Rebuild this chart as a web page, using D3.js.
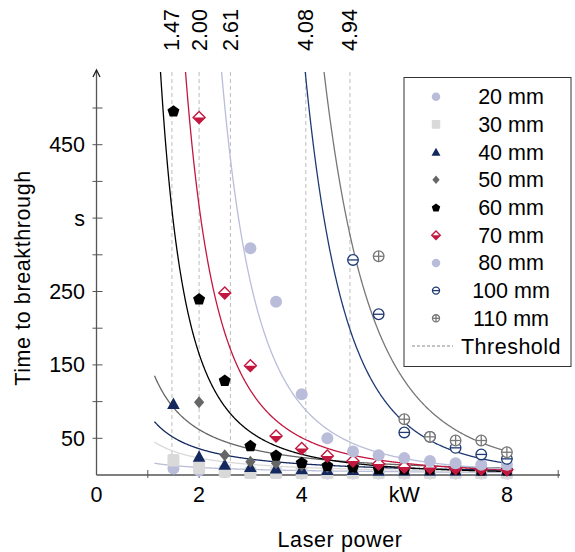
<!DOCTYPE html>
<html><head><meta charset="utf-8">
<script src="https://cdn.jsdelivr.net/npm/d3@7"></script>
<style>
html,body{margin:0;padding:0;background:#fff;}
svg{display:block;font-family:"Liberation Sans",Arial,sans-serif;}
</style></head>
<body>
<svg id="chart" width="575" height="552"></svg>
<script>
// ---------- data ----------
const powerKW = [1.5,2,2.5,3,3.5,4,4.5,5,5.5,6,6.5,7,7.5,8];
const seriesNames = ["20 mm","30 mm","40 mm","50 mm","60 mm","70 mm","80 mm","100 mm","110 mm"];
const t20  = [9,6,4,3,3,2,2,2,2,2,2,2,2,2];
const t30  = [20,10,5,3,3,3,3,3,3,3,3,3,3,3];
const t40  = [97,25,14,11,9,8,7,7,6,6,6,6,6,6];
const t50  = [null,99,27,18,16,13,11,10,9,9,8,8,8,7];
const t60  = [496,240,129,40,27,17,13,11,9,8,8,8,7,7];
const t70  = [null,487,248,149,53,36,26,19,15,11,10,9,8,7];
const t80  = [null,null,null,309,236,110,50,32,27,23,19,16,14,14];
const t100 = [null,null,null,null,null,null,null,293,219,58,52,37,28,22];
const t110 = [null,null,null,null,null,null,null,null,298,76,52,47,47,31];
// power-law trendlines t = a * P^-b
const fitA = [17.6,51.8,84.6,160,966,2642,13000,857600,700000];
const fitB = [0.77,1.16,1.24,1.37,2.55,2.85,3.55,5.24,4.8];
const thresholds = [1.47,2.00,2.61,4.08,4.94];
const yTickValues = [50,150,250,350,450];
const yTickLabels = ["50","150","250","s","450"];
const xTickValues = [0,2,4,6,8];
const xTickLabels = ["0","2","4","kW","8"];

const allValues = [t20,t30,t40,t50,t60,t70,t80,t100,t110];
const colors = ["#b9bdd9","#d9d9d9","#13285e","#666666","#000000","#c3173f","#b9bdd9","#1f3a72","#777777"];
const shapes = ["circle","square","triangle","diamond","pentagon","halfdiamond","circle","minus","plus"];

// ---------- layout ----------
const svg = d3.select("#chart");
const FS = 21.5;
const x = d3.scaleLinear().domain([0,9]).range([96.5, 96.5 + 9*51.3]);
const y = d3.scaleLinear().domain([0,500]).range([475, 108]);
const topY = 72;

svg.append("defs").append("clipPath").attr("id","clip")
  .append("rect").attr("x",x(0)).attr("y",topY).attr("width",x(9)-x(0)).attr("height",y(0)-topY);

// threshold lines
svg.append("g").selectAll("line").data(thresholds).join("line")
  .attr("x1",d=>x(d)).attr("x2",d=>x(d)).attr("y1",topY).attr("y2",y(0))
  .attr("stroke","#bdbdbd").attr("stroke-width",1).attr("stroke-dasharray","4,3");

svg.append("g").selectAll("text").data(thresholds).join("text")
  .attr("transform",d=>`translate(${x(d)+7.5},51) rotate(-90)`)
  .attr("font-size",FS).attr("fill","#000")
  .text(d=>d.toFixed(2));

// trend curves
const curveG = svg.append("g").attr("clip-path","url(#clip)");
const line = d3.line().x(d=>x(d[0])).y(d=>y(d[1]));
fitA.forEach((a,i)=>{
  const b = fitB[i];
  const pts = [];
  for (let p=0.9; p<=8.07; p+=0.01) {
    if (i<4 && p<1.13) continue;
    pts.push([p, a*Math.pow(p,-b)]);
  }
  pts.push([8.07, a*Math.pow(8.07,-b)]);
  curveG.append("path").attr("d",line(pts.filter(d=>d[1]<700)))
    .attr("fill","none").attr("stroke",colors[i]).attr("stroke-width",1.3);
});

// axes
const axisColor = "#555";
svg.append("line").attr("x1",x(0)).attr("x2",560).attr("y1",y(0)).attr("y2",y(0))
  .attr("stroke",axisColor).attr("stroke-width",1.5);
svg.append("line").attr("x1",x(0)).attr("x2",x(0)).attr("y1",y(0)).attr("y2",71)
  .attr("stroke",axisColor).attr("stroke-width",1.3);
svg.append("path").attr("d",`M${x(0)-3.5},77 L${x(0)},70 L${x(0)+3.5},77`)
  .attr("fill","none").attr("stroke","#222").attr("stroke-width",1.3);

// y ticks every 50
svg.append("g").selectAll("line").data(d3.range(50,501,50)).join("line")
  .attr("x1",x(0)-4).attr("x2",x(0)+6).attr("y1",d=>y(d)).attr("y2",d=>y(d))
  .attr("stroke",axisColor).attr("stroke-width",1);
svg.append("g").selectAll("text").data(yTickValues).join("text")
  .attr("x",85).attr("y",d=>y(d)).attr("dy","0.35em").attr("text-anchor","end")
  .attr("font-size",FS).text((d,i)=>yTickLabels[i]);

// x ticks
svg.append("g").selectAll("line").data(d3.range(1,10,1)).join("line")
  .attr("x1",d=>x(d)).attr("x2",d=>x(d)).attr("y1",y(0)-5).attr("y2",y(0)+3)
  .attr("stroke",axisColor).attr("stroke-width",1);
svg.append("g").selectAll("text").data(xTickValues).join("text")
  .attr("x",d=>x(d)).attr("y",502).attr("text-anchor","middle")
  .attr("font-size",FS).text((d,i)=>xTickLabels[i]);

// axis titles
svg.append("text").attr("x",340).attr("y",547).attr("text-anchor","middle")
  .attr("font-size",FS).attr("letter-spacing","0.6").text("Laser power");
svg.append("text").attr("transform","translate(30,278) rotate(-90)").attr("text-anchor","middle")
  .attr("font-size",FS).attr("letter-spacing","0.6").text("Time to breakthrough");

// markers
function drawMarker(g, shape, color, s) {
  const r = s/2;
  switch(shape){
    case "circle":
      g.append("circle").attr("r",r).attr("fill",color); break;
    case "square":
      g.append("rect").attr("x",-r).attr("y",-r*1.05).attr("width",s).attr("height",s*1.05)
        .attr("rx",s*0.15).attr("fill",color); break;
    case "triangle":
      g.append("path").attr("d",`M0,${-r*1.05} L${r*1.05},${r*0.85} L${-r*1.05},${r*0.85}Z`).attr("fill",color); break;
    case "diamond":
      g.append("path").attr("d",`M0,${-r} L${r*0.85},0 L0,${r} L${-r*0.85},0Z`).attr("fill",color); break;
    case "pentagon": {
      const pts = d3.range(5).map(k=>{const a=-Math.PI/2+k*2*Math.PI/5;return [r*1.05*Math.cos(a), r*1.05*Math.sin(a)+0.5];});
      g.append("path").attr("d","M"+pts.join("L")+"Z").attr("fill",color); break; }
    case "halfdiamond":
      g.append("path").attr("d",`M0,${-r} L${r},0 L${-r},0Z`).attr("fill","#fff");
      g.append("path").attr("d",`M${-r},0 L${r},0 L0,${r}Z`).attr("fill",color);
      g.append("path").attr("d",`M0,${-r} L${r},0 L0,${r} L${-r},0Z`)
        .attr("fill","none").attr("stroke",color).attr("stroke-width",1.4);
      break;
    case "minus":
      g.append("circle").attr("r",r-0.7).attr("fill","#fff").attr("stroke",color).attr("stroke-width",1.3);
      g.append("line").attr("x1",-r+0.7).attr("x2",r-0.7).attr("stroke",color).attr("stroke-width",1.3); break;
    case "plus":
      g.append("circle").attr("r",r-0.7).attr("fill","#fff").attr("stroke",color).attr("stroke-width",1.3);
      g.append("line").attr("x1",-r+0.7).attr("x2",r-0.7).attr("stroke",color).attr("stroke-width",1.3);
      g.append("line").attr("y1",-r+0.7).attr("y2",r-0.7).attr("stroke",color).attr("stroke-width",1.3); break;
  }
}

const markG = svg.append("g");
allValues.forEach((vals,i)=>{
  vals.forEach((v,j)=>{
    if (v==null) return;
    const g = markG.append("g").attr("transform",`translate(${x(powerKW[j])},${y(v)})`);
    drawMarker(g, shapes[i], colors[i], 12);
  });
});

// legend
const lg = svg.append("g");
lg.append("rect").attr("x",404).attr("y",77.5).attr("width",167).attr("height",289)
  .attr("fill","#fff").attr("stroke","#333").attr("stroke-width",1);
const rowY = i => 96.7 + i*27.7;
seriesNames.forEach((name,i)=>{
  const g = lg.append("g").attr("transform",`translate(436,${rowY(i)})`);
  drawMarker(g, shapes[i], colors[i], 8.5);
  lg.append("text").attr("x",511).attr("y",rowY(i)).attr("dy","0.35em")
    .attr("text-anchor","middle").attr("font-size",FS).text(name);
});
lg.append("line").attr("x1",412).attr("x2",453).attr("y1",rowY(9)).attr("y2",rowY(9))
  .attr("stroke","#888").attr("stroke-width",1).attr("stroke-dasharray","3,2");
lg.append("text").attr("x",511).attr("y",rowY(9)).attr("dy","0.35em")
  .attr("text-anchor","middle").attr("font-size",FS).attr("letter-spacing","0.5").text("Threshold");
</script>
</body></html>
